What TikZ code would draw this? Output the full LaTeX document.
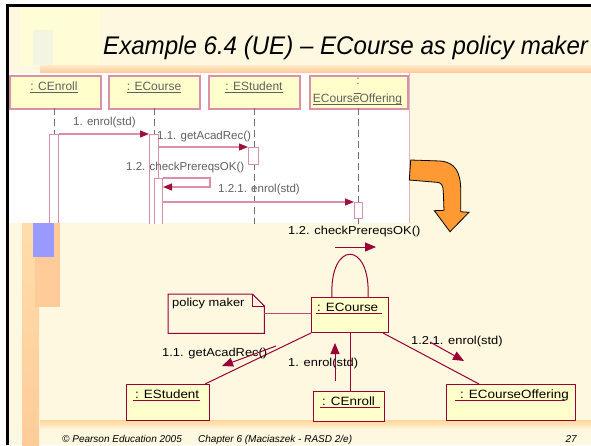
\documentclass[tikz,border=0pt]{standalone}
\usepackage{fontspec}
\setmainfont{Liberation Sans}
\newfontfamily\cfont{Liberation Sans}[FakeStretch=1.12]
\newfontfamily\titlefont{Liberation Sans}[FakeStretch=0.945]
\usetikzlibrary{arrows.meta}

\definecolor{slidebg}{HTML}{FFF8E0}
\definecolor{paleyel}{HTML}{FFFDD6}
\definecolor{faintgrn}{HTML}{F3F5E0}
\definecolor{bandor}{HTML}{FFCC99}
\definecolor{bandlt}{HTML}{FFEBCC}
\definecolor{bandtop}{HTML}{FFDDAA}
\definecolor{footor}{HTML}{FFD699}
\definecolor{footlt}{HTML}{FFF3D6}
\definecolor{blueblk}{HTML}{9999FF}
\definecolor{objfill}{HTML}{FFFFCC}
\definecolor{seqpink}{HTML}{DC90A8}
\definecolor{lifegray}{HTML}{707070}
\definecolor{seqtext}{HTML}{606060}
\definecolor{darkred}{HTML}{990033}
\definecolor{arrowred}{HTML}{A0103C}
\definecolor{arrowor}{HTML}{FF9933}

\tikzset{
  seqobj/.style={draw=seqpink, line width=1.6pt, fill=objfill, anchor=north west,
    inner sep=0pt, minimum width=91pt, minimum height=33pt},
  seqbar/.style={draw=seqpink, line width=1pt, fill=white, anchor=north west,
    inner sep=0pt, minimum width=9pt},
  seqlife/.style={draw=lifegray, line width=0.9pt, dash pattern=on 7pt off 4pt},
  seqmsg/.style={draw=seqpink, line width=1.2pt,
    -{Triangle[length=9pt,width=7pt,color=arrowred]}},
  seqlbl/.style={font=\fontsize{11.5}{13}\selectfont, text=seqtext, inner sep=0pt},
  seqname/.style={font=\fontsize{12}{14}\selectfont, text=seqtext, inner sep=0pt, anchor=base},
  sequl/.style={draw=seqtext, line width=0.6pt},
  cobj/.style={draw=darkred, line width=1pt, fill=objfill, anchor=north west, inner sep=0pt},
  cline/.style={draw=darkred, line width=1pt},
  cmsg/.style={draw=darkred, line width=1pt,
    -{Triangle[length=11pt,width=9pt,color=darkred]}},
  clbl/.style={font=\cfont\fontsize{11.5}{13}\selectfont, inner sep=0pt, anchor=base west},
  cname/.style={font=\cfont\fontsize{12}{14}\selectfont, inner sep=0pt, anchor=base west},
  cul/.style={draw=darkred, line width=0.9pt},
  foot/.style={font=\fontsize{10}{12}\selectfont\itshape, inner sep=0pt},
}

\begin{document}
\begin{tikzpicture}[x=1pt,y=-1pt]
\useasboundingbox (0,0) rectangle (591,445);
% slide background and decorations
\fill[white] (0,0) rectangle (591,445);
\fill[slidebg] (8,6) rectangle (591,445);
\fill[paleyel] (20,8) rectangle (100,65);
\fill[faintgrn] (33,30) rectangle (53,65);
\shade[top color=bandlt, bottom color=bandor] (40,65) rectangle (591,72);

\node[anchor=base west, inner sep=0pt, font=\titlefont\fontsize{25.5}{30}\selectfont\itshape] (title)
  at (103,54) {Example 6.4 (UE) – ECourse as policy maker};

% sequence diagram
\begin{scope}
\clip (8,73) rectangle (409.5,223);
\fill[white] (8,73) rectangle (409.5,223);
\node[seqobj] (sce) at (9,75) {};
\node[seqobj] (sec) at (108,75) {};
\node[seqobj] (ses) at (208,75) {};
\node[seqobj, minimum width=98pt] (seo) at (309,75) {};

\draw[seqlife] (54,108) -- (54,134);
\draw[seqlife] (154,108) -- (154,134);
\draw[seqlife] (254,108) -- (254,224);
\draw[seqlife] (358,108) -- (358,224);

\node[seqbar, minimum height=92pt] (cbar) at (49,134) {};
\node[seqbar, minimum height=92pt] (ebar) at (149,134) {};
\node[seqbar, minimum width=8pt, minimum height=48pt] (nbar) at (154,178) {};
\node[seqbar, minimum width=10pt, minimum height=17pt] (sbar) at (248,147) {};
\node[seqbar, minimum width=8pt, minimum height=16pt] (obar) at (354,202) {};

\draw[seqmsg] (cbar.north east) -- (ebar.north west);
\draw[seqmsg] (ebar.east |- sbar.north) -- (sbar.north west);
\draw[seqmsg] (nbar.north east) -- ++(47,0) -- ++(0,9) -- ([yshift=-9pt]nbar.north east);
\draw[seqmsg] (nbar.east |- obar.north) -- (obar.north west);

\node[seqlbl, anchor=base west] (m1) at (73,125) {1. enrol(std)};
\node[seqlbl, anchor=base west] (m2) at (157,139) {1.1. getAcadRec()};
\node[seqlbl, anchor=base west] (m3) at (126,170) {1.2. checkPrereqsOK()};
\node[seqlbl, anchor=base west] (m4) at (218,192) {1.2.1. enrol(std)};

\node[seqname] (nce) at (54,90.5) {: CEnroll};
\node[seqname] (nec) at (154,90.5) {: ECourse};
\node[seqname] (nes) at (254,90.5) {: EStudent};
\node[seqname] (neo1) at (358,84) {:};
\node[seqname] (neo2) at (357.5,102.5) {ECourseOffering};
\draw[sequl] ([yshift=-2pt]nce.base west) -- ([yshift=-2pt]nce.base east);
\draw[sequl] ([yshift=-2pt]nec.base west) -- ([yshift=-2pt]nec.base east);
\draw[sequl] ([yshift=-2pt]nes.base west) -- ([yshift=-2pt]nes.base east);
\draw[sequl] (354,93) -- (361,93);
\draw[sequl] ([yshift=-2pt]neo2.base west) -- ([yshift=-2pt]neo2.base east);
\end{scope}
\draw[draw=seqpink!70, line width=1pt] (409,73) -- (409,223);

% left side blocks
\shade[top color=bandtop, bottom color=bandor] (22,223) rectangle (39,445);
\fill[bandor] (35,223) rectangle (60,307);
\fill[blueblk] (33,223) rectangle (54,257);
% footer band
\shade[top color=footor, bottom color=footlt] (40,420) rectangle (591,428);

% big orange turn arrow
\draw[black, line width=0.8pt, fill=arrowor]
  (410.7,160) -- (440,161) .. controls (455,162) and (460.7,172) .. (460.7,190)
  -- (460.7,211.7) -- (469,212.3) -- (450,231.7) -- (434.3,210.7) -- (444,210.3)
  -- (443.3,192) .. controls (443.3,185) and (441,182.3) .. (436.7,182.3)
  -- (409.3,180) -- cycle;

% collaboration diagram
\node[cobj, minimum width=77pt, minimum height=35pt] (ec) at (311,297) {};
\node[cobj, minimum width=83pt, minimum height=36pt] (es) at (126,384) {};
\node[cobj, minimum width=71pt, minimum height=30pt] (ce) at (313,391) {};
\node[cobj, minimum width=129pt, minimum height=36pt] (eco) at (446,384) {};

\node[cname] (lec) at (317,311) {: ECourse};
\node[cname] (les) at (135,398.5) {: EStudent};
\node[cname] (lce) at (322,405.5) {: CEnroll};
\node[cname] (leco) at (460,398.5) {: ECourseOffering};
\draw[cul] (316,313) -- (382,313);
\draw[cul] (133,400.5) -- (200,400.5);
\draw[cul] (320,407.5) -- (380,407.5);
\draw[cul] (455,400.5) -- (565,400.5);

\draw[cline] (ec.south west) -- ([xshift=-5pt]es.north east);
\draw[cline] (ec.south) -- (ec.south |- ce.north);
\draw[cline] ([xshift=-6pt]ec.south east) -- ([xshift=-32pt]eco.north);
\draw[cline] ([xshift=-18pt]ec.north) .. controls +(-3,-57) and +(3,-57) .. ([xshift=18pt]ec.north);

% note
\node[minimum width=96pt, minimum height=39pt, anchor=north west, inner sep=0pt] (note) at (168,294) {};
\draw[cline] (note.north west) -- ([xshift=-12pt]note.north east) -- ([yshift=-12pt]note.north east)
  -- (note.south east) -- (note.south west) -- cycle;
\draw[cline] ([xshift=-12pt]note.north east) |- ([yshift=-12pt]note.north east);
\node[clbl] (notetxt) at (172,306) {policy maker};
\draw[cline, draw=darkred!70] (note.east) -- (note.east -| ec.west);

% messages
\node[clbl] (c3) at (288,234) {1.2. checkPrereqsOK()};
\coordinate (c3a) at (335,247);
\coordinate (c3b) at (376,247);
\draw[cmsg] (c3a) -- (c3b);

\node[clbl] (c2) at (162,356.5) {1.1. getAcadRec()};
\coordinate (c2a) at (276,346);
\coordinate (c2b) at (222,366);
\draw[cmsg] (c2a) -- (c2b);

\node[clbl] (c1) at (288,366) {1. enrol(std)};
\coordinate (c1a) at (335,381);
\coordinate (c1b) at (335,343);
\draw[cmsg] (c1a) -- (c1b);

\node[clbl] (c4) at (411,344) {1.2.1. enrol(std)};
\coordinate (c4a) at (430,342);
\coordinate (c4b) at (464,361);
\draw[cmsg] (c4a) -- (c4b);

% footer
\node[foot, anchor=base west] (f1) at (62,442) {© Pearson Education 2005};
\node[foot, anchor=base west] (f2) at (198,442) {Chapter 6 (Maciaszek - RASD 2/e)};
\node[foot, anchor=base east] (f3) at (577,442) {27};

% frame lines
\draw[black, line width=2.8pt] (7.5,445) -- (7.5,5.3) -- (591,5.3);
\end{tikzpicture}
\end{document}
